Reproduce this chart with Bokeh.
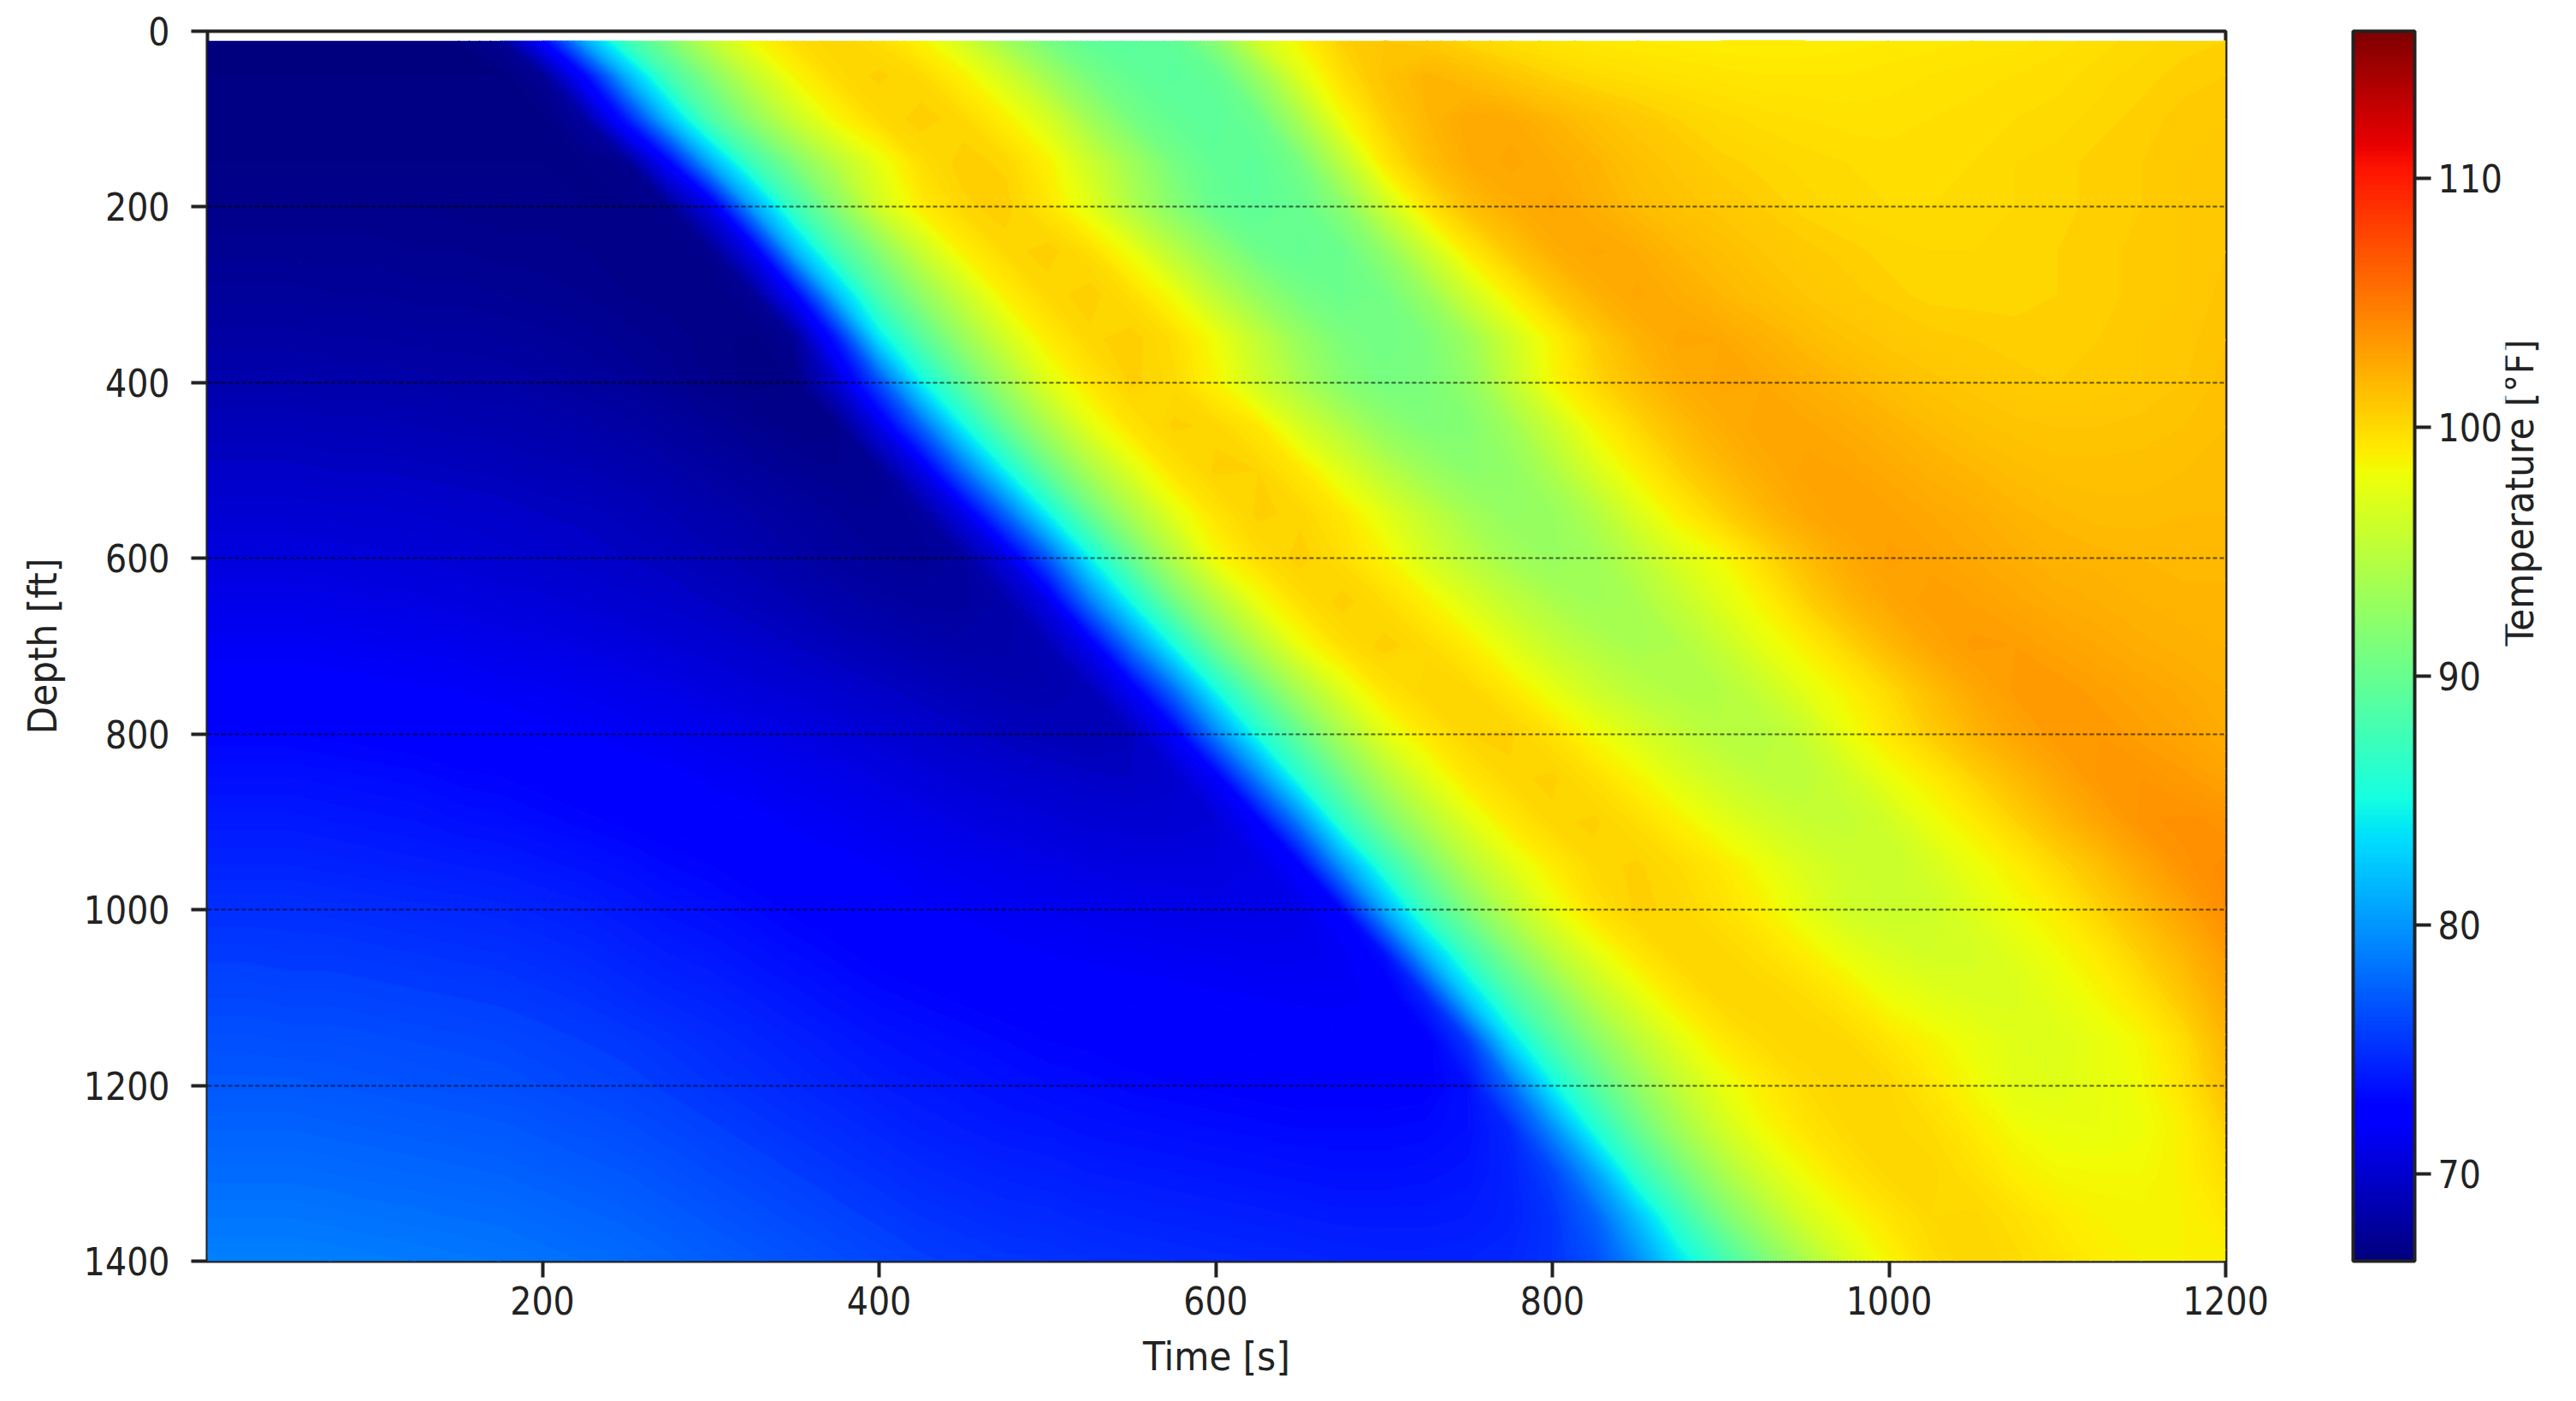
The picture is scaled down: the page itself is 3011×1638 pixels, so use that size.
import math

import numpy as np
from bokeh.embed import file_html
from bokeh.models import ColorBar, FixedTicker, LinearAxis, LinearColorMapper, Range1d
from bokeh.plotting import figure
from bokeh.resources import INLINE

times = [t * 25 for t in range(49)]
depths = [11] + [d * 50 for d in range(1, 29)]

temp = [
    [66.7, 66.7, 66.7, 66.7, 66.7, 66.7, 66.7, 67.5, 72.5, 81,
     87.5, 91.5, 95.5, 98.4, 100, 100.5, 100, 98.8, 96.5, 93.5,
     91, 89.6, 89.2, 89.6, 92, 96.5, 98.8, 100.6, 101.1, 100.9,
     100.3, 99.9, 99.6, 99.4, 99.3, 99.2, 99.1, 99.1, 99.1, 99.2,
     99.3, 99.4, 99.5, 99.6, 99.8, 100, 100.2, 100.4, 100.5],
    [66.7, 66.7, 66.7, 66.7, 66.7, 66.7, 66.7, 66.7, 67.5, 73,
     81.5, 88, 92, 95.8, 98.7, 100.2, 100.6, 100.2, 98.9, 96.5,
     93.5, 91, 89.7, 89.2, 89.8, 93, 97.3, 100, 101.3, 102,
     101.6, 101, 100.5, 100.1, 99.9, 99.7, 99.6, 99.5, 99.5, 99.5,
     99.6, 99.7, 99.8, 99.9, 100, 100.2, 100.4, 100.6, 100.7],
    [66.8, 66.8, 66.8, 66.8, 66.8, 66.8, 66.8, 66.8, 66.8, 68,
     74, 82, 88.5, 92.5, 96, 98.7, 100.2, 100.7, 100.3, 99,
     96.8, 93.5, 91, 89.7, 89.3, 90.3, 94, 98.3, 100.6, 101.9,
     102.7, 102.6, 102, 101.4, 100.9, 100.5, 100.2, 100, 99.9, 99.8,
     99.8, 99.9, 100, 100.1, 100.2, 100.4, 100.6, 100.8, 100.9],
    [66.9, 66.9, 66.9, 66.9, 66.9, 66.9, 66.9, 66.9, 66.9, 66.9,
     67.2, 72.5, 81, 87.5, 91.5, 95, 97.8, 100, 100.7, 100.4,
     99, 96.2, 93.5, 91, 89.6, 89.4, 91, 95, 99.4, 101.4,
     102.5, 102.8, 102.5, 102, 101.4, 101, 100.6, 100.4, 100.2, 100.1,
     100, 100, 100.1, 100.3, 100.4, 100.6, 100.7, 100.9, 101],
    [67.1, 67.1, 67.1, 67.1, 67.1, 67.1, 67, 67, 67, 66.9,
     66.9, 67.3, 71, 80.5, 87.5, 92, 96.5, 99.2, 100.4, 100.7,
     99.6, 97.5, 94.5, 92, 90, 89.5, 90, 92, 96, 99.6,
     101.5, 102.4, 102.8, 102.3, 101.7, 101.3, 101, 100.7, 100.4, 100.2,
     100.1, 100.1, 100.2, 100.3, 100.4, 100.6, 100.7, 100.9, 101],
    [67.4, 67.4, 67.4, 67.4, 67.4, 67.3, 67.3, 67.2, 67.2, 67.1,
     67, 66.9, 67.3, 71.5, 81.5, 88, 92, 96, 99, 100.3,
     100.7, 100, 98, 95, 92.5, 90.5, 89.8, 90.3, 92.5, 96,
     99.3, 101.1, 102.4, 102.8, 102.5, 101.9, 101.5, 101.1, 100.8, 100.6,
     100.4, 100.3, 100.3, 100.4, 100.5, 100.6, 100.8, 100.9, 101.1],
    [67.8, 67.8, 67.8, 67.7, 67.7, 67.6, 67.6, 67.5, 67.4, 67.3,
     67.1, 67, 66.9, 67.5, 72.5, 82, 88.5, 92.5, 96, 99,
     100.3, 100.7, 100, 98.2, 95.2, 92.8, 91, 90.3, 90.8, 93,
     96.3, 99, 100.9, 102.2, 102.8, 102.4, 101.9, 101.5, 101.1, 100.8,
     100.6, 100.4, 100.4, 100.4, 100.5, 100.6, 100.8, 100.9, 101.2],
    [68.2, 68.2, 68.2, 68.1, 68.1, 68, 68, 67.9, 67.8, 67.6,
     67.4, 67.2, 67, 66.8, 67.5, 74, 83.8, 89, 93, 96.5,
     99.2, 100.4, 100.7, 100, 98.2, 95.5, 93, 91.3, 90.7, 91.3,
     93.3, 96.3, 98.9, 100.8, 102.1, 102.8, 102.7, 102.2, 101.7, 101.3,
     101, 100.8, 100.7, 100.6, 100.6, 100.7, 100.9, 101, 101.3],
    [68.6, 68.6, 68.6, 68.5, 68.5, 68.4, 68.3, 68.3, 68.1, 67.9,
     67.7, 67.4, 67.1, 66.8, 66.9, 70, 76.5, 84.5, 89.5, 93.5,
     97.3, 99.5, 100.6, 100.2, 98.8, 96.3, 94, 92, 91, 91.2,
     92.6, 95.5, 98.6, 100.3, 101.5, 102.4, 102.8, 102.7, 102.3, 101.9,
     101.5, 101.2, 101, 100.8, 100.7, 100.8, 100.9, 101.1, 101.4],
    [69.1, 69.1, 69.1, 69, 69, 68.9, 68.8, 68.7, 68.6, 68.4,
     68.2, 67.9, 67.6, 67.3, 67, 67, 71, 77.5, 84.7, 90,
     94, 97.5, 99.7, 100.6, 100.4, 99.5, 96.8, 94.6, 92.6, 91.6,
     91.8, 93.5, 96, 98.7, 100.3, 101.6, 102.4, 102.9, 102.8, 102.5,
     102.1, 101.7, 101.4, 101.2, 101.1, 101.1, 101.2, 101.3, 101.5],
    [69.6, 69.6, 69.6, 69.5, 69.5, 69.4, 69.3, 69.2, 69, 68.9,
     68.7, 68.4, 68.1, 67.8, 67.5, 67.3, 67.5, 71, 78, 84.7,
     90, 94, 97.3, 99.7, 100.6, 100.5, 99.5, 97.3, 95, 93.3,
     92.2, 92.6, 94.3, 96.8, 99, 100.5, 101.7, 102.5, 103, 102.9,
     102.6, 102.2, 101.9, 101.6, 101.4, 101.4, 101.4, 101.5, 101.6],
    [70.1, 70.1, 70.1, 70, 70, 69.9, 69.8, 69.7, 69.5, 69.4,
     69.2, 68.9, 68.6, 68.3, 68, 67.7, 67.5, 67.8, 71, 77.5,
     84.5, 90, 94, 97.5, 99.7, 100.6, 100.4, 99.5, 97.6, 95.5,
     93.8, 92.8, 93, 94.5, 97, 99.1, 100.5, 101.8, 102.7, 103.1,
     103, 102.7, 102.4, 102, 101.8, 101.6, 101.6, 101.7, 101.7],
    [70.6, 70.6, 70.6, 70.5, 70.4, 70.3, 70.2, 70, 69.9, 69.7,
     69.5, 69.3, 69, 68.7, 68.3, 68, 67.7, 67.6, 68, 70.7,
     77, 84.5, 90, 94.5, 98.4, 100, 100.7, 100, 98.9, 96.8,
     95, 93.7, 93, 93.5, 95, 97, 98.4, 100.1, 101.6, 102.6,
     103.2, 103, 102.7, 102.4, 102.1, 102, 101.9, 101.8, 101.8],
    [71.1, 71.1, 71.1, 71, 70.9, 70.8, 70.7, 70.5, 70.4, 70.2,
     70, 69.8, 69.5, 69.2, 68.9, 68.5, 68.2, 68, 68, 68.4,
     71, 78.5, 85, 90.5, 94.5, 98, 99.9, 100.7, 100.1, 99,
     97.2, 95.5, 94.2, 93.6, 94, 95.5, 97.3, 98.9, 100.5, 101.9,
     102.8, 103.3, 103.1, 102.8, 102.5, 102.3, 102.1, 102, 102],
    [71.7, 71.7, 71.7, 71.6, 71.5, 71.4, 71.3, 71.1, 71, 70.8,
     70.6, 70.3, 70.1, 69.8, 69.5, 69.2, 68.9, 68.6, 68.4, 68.4,
     68.8, 71.5, 78.5, 85, 90.5, 94.5, 98, 99.9, 100.7, 100.2,
     99.2, 97.5, 95.8, 94.6, 94, 94.3, 95.7, 97.6, 99, 100.4,
     101.8, 102.8, 103.4, 103.3, 103, 102.7, 102.4, 102.2, 102.1],
    [72.3, 72.3, 72.3, 72.2, 72.1, 72, 71.9, 71.7, 71.6, 71.4,
     71.2, 71, 70.7, 70.4, 70.2, 69.9, 69.6, 69.3, 69, 68.8,
     68.7, 69, 71.8, 78, 85, 90, 94, 97.3, 99.6, 100.5,
     100.4, 99.4, 97.8, 96.2, 95, 94.4, 94.5, 95.8, 97.6, 98.9,
     100.2, 101.6, 102.7, 103.4, 103.5, 103.2, 102.9, 102.6, 102.3],
    [72.9, 72.9, 72.9, 72.8, 72.7, 72.6, 72.4, 72.3, 72.1, 71.9,
     71.7, 71.5, 71.3, 71, 70.8, 70.5, 70.2, 69.9, 69.6, 69.3,
     69.1, 68.9, 69.2, 72, 79, 85.5, 90, 94, 97.5, 99.4,
     100.5, 100.6, 99.8, 98.4, 97, 95.7, 94.8, 94.6, 95.8, 98,
     99.5, 100.8, 102, 102.9, 103.5, 103.5, 103.2, 102.9, 102.5],
    [73.5, 73.5, 73.5, 73.4, 73.3, 73.2, 73, 72.9, 72.7, 72.5,
     72.3, 72.1, 71.8, 71.6, 71.3, 71.1, 70.8, 70.5, 70.2, 70,
     69.8, 69.6, 69.5, 69.8, 72, 79, 86, 90.5, 94.3, 97.3,
     99.5, 100.4, 100.6, 99.9, 98.8, 97.3, 96.1, 95.3, 95.1, 96.3,
     98, 99.2, 100.5, 101.7, 102.8, 103.6, 103.7, 103.4, 103],
    [74, 74, 74, 73.9, 73.8, 73.7, 73.5, 73.4, 73.2, 73,
     72.8, 72.6, 72.3, 72.1, 71.8, 71.6, 71.3, 71.1, 70.8, 70.6,
     70.4, 70.2, 70.1, 70.1, 70.3, 72.3, 79, 86.5, 91, 94.5,
     97.3, 99.4, 100.4, 100.6, 100, 99, 97.7, 96.6, 95.8, 95.5,
     96.4, 98, 99.2, 100.5, 101.8, 102.9, 103.8, 104, 103.8],
    [74.5, 74.5, 74.5, 74.4, 74.3, 74.2, 74.1, 74, 73.8, 73.6,
     73.4, 73.1, 72.9, 72.6, 72.4, 72.1, 71.9, 71.6, 71.4, 71.2,
     71, 70.8, 70.7, 70.7, 70.7, 70.9, 72.5, 80, 86.5, 91,
     94.7, 97.3, 99.2, 100.3, 100.6, 100.1, 99.4, 98.2, 97, 96.2,
     95.9, 96.7, 98, 99.1, 100.3, 101.5, 102.8, 103.8, 104.2],
    [75.1, 75.1, 75.1, 75, 74.9, 74.8, 74.7, 74.6, 74.4, 74.2,
     73.9, 73.6, 73.4, 73.1, 72.8, 72.5, 72.2, 72, 71.8, 71.6,
     71.5, 71.3, 71.2, 71.1, 71, 71, 71.1, 73, 81, 87.5,
     91.5, 95, 97.8, 99.8, 100.6, 100.4, 99.8, 99, 97.6, 96.4,
     96, 96.2, 97.2, 98.3, 99.2, 100.5, 101.8, 103, 104.1],
    [75.6, 75.6, 75.5, 75.5, 75.4, 75.3, 75.2, 75.1, 74.9, 74.7,
     74.4, 74.1, 73.9, 73.6, 73.3, 73, 72.7, 72.5, 72.3, 72.1,
     71.9, 71.8, 71.7, 71.6, 71.5, 71.4, 71.4, 71.6, 73.5, 81.5,
     87.5, 91.5, 95, 97.6, 99.5, 100.5, 100.4, 99.9, 99.1, 97.9,
     97, 96.5, 96.6, 97.4, 98.4, 99.4, 100.7, 102, 103.4],
    [76.1, 76.1, 76, 76, 75.9, 75.8, 75.7, 75.6, 75.4, 75.2,
     74.9, 74.6, 74.4, 74.1, 73.8, 73.5, 73.2, 73, 72.8, 72.6,
     72.4, 72.3, 72.2, 72.1, 72, 71.9, 71.8, 71.8, 72, 74.5,
     82.5, 88, 91.5, 95, 97.5, 99.4, 100.4, 100.5, 100.1, 99.4,
     98.2, 97.5, 97.1, 97, 97.7, 98.6, 99.7, 101.1, 102.7],
    [76.6, 76.6, 76.5, 76.5, 76.4, 76.3, 76.2, 76.1, 75.9, 75.7,
     75.5, 75.2, 74.9, 74.6, 74.3, 74, 73.7, 73.5, 73.3, 73.1,
     72.9, 72.8, 72.7, 72.6, 72.5, 72.4, 72.3, 72.2, 72.2, 72.4,
     75.5, 83.5, 88.5, 92, 95, 97.5, 99.3, 100.2, 100.5, 100.3,
     99.6, 98.8, 98, 97.3, 97.2, 97.8, 98.6, 100, 102],
    [77, 77, 77, 76.9, 76.8, 76.7, 76.6, 76.5, 76.3, 76.1,
     75.9, 75.6, 75.3, 75, 74.7, 74.4, 74.1, 73.9, 73.7, 73.5,
     73.3, 73.2, 73, 72.9, 72.8, 72.7, 72.6, 72.6, 72.6, 72.7,
     73.5, 78, 84.5, 89, 92.5, 95.5, 97.8, 99.2, 100.1, 100.5,
     100.3, 99.5, 98.5, 97.5, 97.3, 97.8, 98.4, 99.6, 101.4],
    [77.5, 77.5, 77.5, 77.4, 77.3, 77.2, 77.1, 77, 76.8, 76.6,
     76.4, 76.1, 75.8, 75.5, 75.2, 74.9, 74.6, 74.3, 74.1, 73.9,
     73.8, 73.6, 73.5, 73.4, 73.3, 73.2, 73.1, 73.1, 73.1, 73.2,
     73.5, 74.7, 79.5, 85.5, 90, 93.5, 96.3, 98.4, 99.6, 100.3,
     100.4, 100.1, 99.3, 98.4, 98, 97.9, 98.2, 99, 100.6],
    [78, 78, 78, 77.9, 77.8, 77.7, 77.6, 77.5, 77.3, 77.1,
     76.9, 76.6, 76.3, 76, 75.7, 75.4, 75.1, 74.8, 74.6, 74.4,
     74.3, 74.1, 74, 73.9, 73.8, 73.7, 73.6, 73.5, 73.5, 73.6,
     73.8, 74.4, 76, 80.5, 86.5, 90.5, 93.8, 96.5, 98.4, 99.7,
     100.4, 100.4, 99.9, 99.1, 98.6, 98.5, 98.5, 99, 100],
    [78.5, 78.5, 78.5, 78.4, 78.3, 78.2, 78.1, 78, 77.8, 77.6,
     77.4, 77.1, 76.8, 76.5, 76.2, 75.9, 75.6, 75.3, 75.1, 74.9,
     74.8, 74.6, 74.5, 74.4, 74.3, 74.2, 74.1, 74, 74, 74,
     74.1, 74.4, 75.3, 77.5, 82, 87, 91, 94, 96.7, 98.4,
     99.6, 100.3, 100.4, 99.9, 99.3, 98.9, 98.8, 98.9, 99.4],
    [79, 79, 79, 78.9, 78.8, 78.7, 78.6, 78.5, 78.3, 78.1,
     77.9, 77.6, 77.3, 77, 76.7, 76.4, 76.1, 75.8, 75.6, 75.4,
     75.3, 75.1, 75, 74.9, 74.8, 74.7, 74.6, 74.5, 74.4, 74.4,
     74.5, 74.7, 75.3, 76.5, 79.5, 83.8, 87.5, 91, 94, 96.8,
     98.7, 100, 100.5, 100.2, 99.7, 99.2, 98.9, 98.9, 99],
]
time_ticks = [200, 400, 600, 800, 1000, 1200]
depth_ticks = [0, 200, 400, 600, 800, 1000, 1200, 1400]
grid_depths = [200, 400, 600, 800, 1000, 1200]
temp_ticks = [70, 80, 90, 100, 110]
temp_low = 66.5
temp_high = 115.9

jet = []
for t in np.linspace(0, 1, 256):
    red = np.interp(t, [0, 0.35, 0.66, 0.89, 1], [0, 0, 1, 1, 0.5])
    green = np.interp(t, [0, 0.125, 0.375, 0.64, 0.91, 1], [0, 0, 1, 1, 0, 0])
    blue = np.interp(t, [0, 0.11, 0.34, 0.65, 1], [0.5, 1, 1, 0, 0])
    jet.append("#%02x%02x%02x" % (int(red * 255), int(green * 255), int(blue * 255)))


def jet_at(v):
    return jet[int((v - temp_low) / (temp_high - temp_low) * 255)]


font = "DejaVu Sans Condensed, DejaVu Sans"
ink = "#222222"

p = figure(
    width=3003,
    height=1622,
    x_range=Range1d(1, 1200),
    y_range=Range1d(1400, 0),
    x_axis_label="Time [s]",
    y_axis_label="Depth [ft]",
    toolbar_location=None,
    output_backend="svg",
    min_border_left=242,
    min_border_right=402,
    min_border_top=36,
    min_border_bottom=148,
)

mapper = LinearColorMapper(palette=jet, low=temp_low, high=temp_high)

# the picture is smooth, so filled contours with a thin band per palette step
levels = np.arange(temp_low, 106.01, 0.2)
fills = [jet_at(v + 0.1) for v in levels[:-1]]
edges = [jet_at(v) for v in levels]
p.contour(times, depths, np.array(temp), levels, fill_color=fills, line_color=edges, line_width=1.5)

p.xgrid.grid_line_color = None
p.ygrid.ticker = FixedTicker(ticks=grid_depths)
p.ygrid.grid_line_color = "black"
p.ygrid.grid_line_width = 2
p.ygrid.grid_line_alpha = 0.6
p.ygrid.grid_line_dash = "5 3"
p.ygrid.level = "overlay"

p.xaxis.ticker = FixedTicker(ticks=time_ticks)
p.yaxis.ticker = FixedTicker(ticks=depth_ticks)
for ax in (p.xaxis[0], p.yaxis[0]):
    ax.major_tick_in = 0
    ax.major_tick_out = 19
    ax.major_tick_line_width = 4
    ax.major_tick_line_color = ink
    ax.minor_tick_line_color = None
    ax.axis_line_color = None
    ax.major_label_text_font = font
    ax.major_label_text_font_size = "44px"
    ax.major_label_text_color = ink
    ax.axis_label_text_font = font
    ax.axis_label_text_font_size = "47px"
    ax.axis_label_text_font_style = "normal"
    ax.axis_label_text_color = ink
p.yaxis.major_label_orientation = "horizontal"
p.xaxis.major_label_standoff = 10
p.yaxis.major_label_standoff = 25
p.xaxis.axis_label_standoff = 18
p.yaxis.axis_label_standoff = 18

p.outline_line_color = ink
p.outline_line_width = 4
p.outline_line_alpha = 1

bar = ColorBar(
    color_mapper=mapper,
    ticker=FixedTicker(ticks=temp_ticks),
    location=(149, 0),
    width=72,
    padding=0,
    margin=0,
    bar_line_color=ink,
    bar_line_width=4,
    major_tick_in=0,
    major_tick_out=19,
    major_tick_line_color=ink,
    major_tick_line_width=4,
    minor_tick_line_color=None,
    major_label_text_font=font,
    major_label_text_font_size="44px",
    major_label_text_color=ink,
    label_standoff=8,
)
p.add_layout(bar, "right")

# colorbar titles only sit on top, so the side label comes from an empty axis
side = LinearAxis(
    ticker=FixedTicker(ticks=[]),
    axis_label="Temperature [°F]",
    axis_label_orientation=math.pi / 2,
    axis_label_standoff=16,
    axis_label_text_font=font,
    axis_label_text_font_size="47px",
    axis_label_text_font_style="normal",
    axis_label_text_color=ink,
    axis_label_text_line_height=0.8,
    axis_line_color=None,
    major_tick_line_color=None,
    minor_tick_line_color=None,
    major_tick_in=0,
    major_tick_out=0,
    major_label_standoff=0,
)
p.add_layout(side, "right")

open("out.html", "w").write(file_html(p, INLINE))
